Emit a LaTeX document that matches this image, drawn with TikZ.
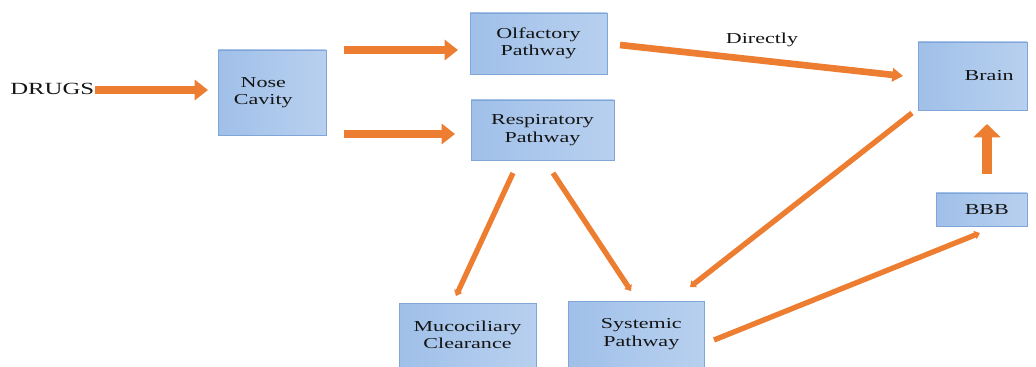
\documentclass[tikz,border=0pt]{standalone}
\usepackage{fontspec}
\setmainfont{Liberation Serif}[FakeStretch=1.45]
\usetikzlibrary{arrows.meta}
\definecolor{boxL}{RGB}{160,192,233}
\definecolor{boxR}{RGB}{184,208,239}
\definecolor{boxD}{RGB}{128,165,215}
\definecolor{arr}{RGB}{237,125,49}
\definecolor{txt}{RGB}{20,20,20}
\tikzset{
  box/.style={rectangle, left color=boxL, right color=boxR, draw=boxD, line width=0.6pt,
    align=center, text=txt, font=\fontsize{11.4}{13}\selectfont, inner sep=0pt},
  plain/.style={text=txt, font=\fontsize{11.4}{13}\selectfont, inner sep=0pt},
  bigarrow/.style={draw=arr, line width=6.5pt, -{Triangle[length=10pt,width=15pt]}},
  midarrow/.style={draw=arr, line width=5pt, -{Triangle[length=8pt,width=10pt]}},
  thinarrow/.style={draw=arr, line width=4pt, -{Triangle[length=4pt,width=6.5pt]}},
  upArrow/.style={draw=arr, line width=8pt, -{Triangle[length=10pt,width=20pt]}},
}
\begin{document}
\begin{tikzpicture}[x=0.75pt,y=-0.75pt]
\useasboundingbox (0,0) rectangle (1036,367);
% boxes
\node[box, minimum width=81pt, minimum height=63.75pt] (nose) at (272,92.5) {Nose\hspace*{13pt}\\Cavity\hspace*{13pt}};
\node[box, minimum width=102.75pt, minimum height=45.75pt] (olf) at (538.5,43.5) {Olfactory\\Pathway};
\node[box, minimum width=107.25pt, minimum height=45pt] (resp) at (542.5,130) {Respiratory\\Pathway};
\node[box, minimum width=81.75pt, minimum height=51pt] (brain) at (972.5,76) {\hspace*{25pt}Brain};
\node[box, minimum width=68.25pt, minimum height=24.75pt] (bbb) at (981.5,209.5) {\hspace*{8pt}BBB};
\node[box, minimum width=102.75pt, minimum height=48pt] (muco) at (467.5,335) {Mucociliary\\Clearance};
\node[box, minimum width=102pt, minimum height=49.5pt] (sys) at (636,334) {\hspace*{8pt}Systemic\\\hspace*{8pt}Pathway};
% texts
\node[plain, anchor=west, font=\fontsize{12.8}{14}\selectfont] (drugs) at (10,89) {DRUGS};
\node[plain] (directly) at (762,40) {Directly};
% connector end coordinates
\coordinate (d1) at (95,90);   \coordinate (d2) at (208,90);
\coordinate (n1) at (344,50);  \coordinate (n2) at (458,50);
\coordinate (n3) at (344,134); \coordinate (n4) at (455,134);
\coordinate (o1) at (620,45);  \coordinate (o2) at (903,76);
\coordinate (r1) at (513,173); \coordinate (r2) at (456,296);
\coordinate (r3) at (553,173); \coordinate (r4) at (631,291);
\coordinate (b1) at (912,113); \coordinate (b2) at (690,287);
\coordinate (s1) at (714,340); \coordinate (s2) at (980,233);
\coordinate (u1) at (987,174); \coordinate (u2) at (987,124);
% arrows
\draw[bigarrow] (d1) -- (d2);
\draw[bigarrow] (n1) -- (n2);
\draw[bigarrow] (n3) -- (n4);
\draw[midarrow] (o1) -- (o2);
\draw[thinarrow] (r1) -- (r2);
\draw[thinarrow] (r3) -- (r4);
\draw[thinarrow] (b1) -- (b2);
\draw[thinarrow] (s1) -- (s2);
\draw[upArrow] (u1) -- (u2);
\end{tikzpicture}
\end{document}
